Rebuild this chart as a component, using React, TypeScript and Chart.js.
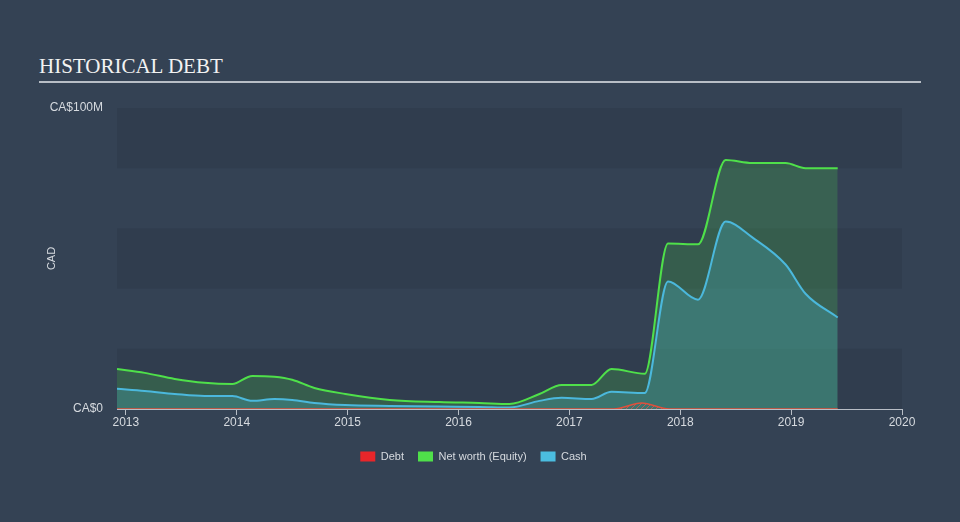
import React, { useEffect, useRef } from 'react';
import { Chart, registerables } from 'chart.js';

Chart.register(...registerables);

// ---- data (values in CA$ millions, x as decimal years) ----
const dates = [
  2012.92, 2013.17, 2013.44, 2013.71, 2013.96, 2014.14, 2014.34, 2014.5, 2014.7, 2014.98,
  2015.38, 2015.83, 2016.19, 2016.46, 2016.73, 2016.93, 2017.2, 2017.38, 2017.68, 2017.89,
  2018.16, 2018.41, 2018.65, 2018.95, 2019.13, 2019.42,
];
const netWorth = [
  13.3, 12, 10, 8.7, 8.3, 11, 10.7, 9.7, 7, 5,
  3, 2.3, 2, 1.7, 5, 8, 8, 13.3, 11.7, 55,
  54.7, 82.7, 81.7, 81.7, 80, 80,
];
const cash = [
  6.7, 6, 5, 4.3, 4.3, 2.7, 3.3, 3, 2, 1.3,
  1, 0.8, 0.7, 0.5, 2.7, 3.7, 3.3, 5.7, 5.3, 42.4,
  36.3, 62.3, 57, 48, 38.3, 30.4,
];
const debtDates = [2012.92, 2017.4, 2017.65, 2017.9, 2019.42];
const debt = [0, 0, 2.0, 0, 0];

const xTicks = [2013, 2014, 2015, 2016, 2017, 2018, 2019, 2020];
const yTicks = [0, 20, 40, 60, 80, 100];
const yLabels: Record<number, string> = { 0: 'CA$0', 100: 'CA$100M' };
const legendNames = ['Debt', 'Net worth (Equity)', 'Cash'];

const BG = '#344254';
const BAND = '#303d4e';
const TEXT = '#d6dadf';
const AXIS = '#b8bec6';
const FONT = '"Liberation Sans", Arial, sans-serif';

const toPoints = (xs: number[], ys: number[]) => xs.map((x, i) => ({ x, y: ys[i] }));

function makeHatch(): CanvasPattern | string {
  const c = document.createElement('canvas');
  c.width = 5;
  c.height = 5;
  const g = c.getContext('2d');
  if (!g) return 'rgba(230,60,60,0.4)';
  g.strokeStyle = 'rgba(235,80,70,0.75)';
  g.lineWidth = 1;
  g.beginPath();
  g.moveTo(0, 5);
  g.lineTo(5, 0);
  g.stroke();
  const p = g.createPattern(c, 'repeat');
  return p || 'rgba(230,60,60,0.4)';
}

const bandsPlugin = {
  id: 'bands',
  beforeDraw(chart: any) {
    const { ctx, chartArea, scales } = chart;
    const y = scales.y;
    ctx.save();
    for (let i = 0; i < yTicks.length - 1; i++) {
      if (i % 2 !== 0) continue;
      const top = y.getPixelForValue(yTicks[i + 1]);
      const bottom = y.getPixelForValue(yTicks[i]);
      ctx.fillStyle = BAND;
      ctx.fillRect(chartArea.left, top, chartArea.right - chartArea.left, bottom - top);
    }
    ctx.restore();
  },
};

export default function App() {
  const ref = useRef<HTMLCanvasElement | null>(null);

  useEffect(() => {
    if (!ref.current) return;
    const chart = new Chart(ref.current, {
      type: 'line',
      data: {
        datasets: [
          {
            label: legendNames[0],
            data: toPoints(debtDates, debt),
            borderColor: '#e0503c',
            borderWidth: 1.5,
            backgroundColor: makeHatch() as any,
            fill: 'origin',
            pointRadius: 0,
            cubicInterpolationMode: 'monotone',
            order: 0,
          },
          {
            label: legendNames[1],
            data: toPoints(dates, netWorth),
            borderColor: '#4fe04a',
            borderWidth: 2,
            backgroundColor: 'rgba(76,210,76,0.22)',
            fill: 'origin',
            pointRadius: 0,
            cubicInterpolationMode: 'monotone',
            order: 2,
          },
          {
            label: legendNames[2],
            data: toPoints(dates, cash),
            borderColor: '#4bb8dc',
            borderWidth: 2,
            backgroundColor: 'rgba(75,190,215,0.25)',
            fill: 'origin',
            pointRadius: 0,
            cubicInterpolationMode: 'monotone',
            order: 1,
          },
        ],
      },
      options: {
        responsive: false,
        animation: false,
        layout: { padding: { left: 45, right: 58, top: 108, bottom: 50 } },
        plugins: {
          tooltip: { enabled: false },
          legend: {
            position: 'bottom',
            labels: {
              boxWidth: 15,
              boxHeight: 10,
              padding: 14,
              color: TEXT,
              font: { family: FONT, size: 11 },
              generateLabels: () => [
                { text: legendNames[0], fillStyle: '#e8262a', strokeStyle: '#e8262a', lineWidth: 0, hidden: false, datasetIndex: 0, fontColor: TEXT },
                { text: legendNames[1], fillStyle: '#4fe04a', strokeStyle: '#4fe04a', lineWidth: 0, hidden: false, datasetIndex: 1, fontColor: TEXT },
                { text: legendNames[2], fillStyle: '#4bbde0', strokeStyle: '#4bbde0', lineWidth: 0, hidden: false, datasetIndex: 2, fontColor: TEXT },
              ],
            },
          },
        },
        scales: {
          x: {
            type: 'linear',
            min: 2012.92,
            max: 2020,
            afterBuildTicks: (s: any) => {
              s.ticks = xTicks.map((v) => ({ value: v }));
            },
            afterFit: (s: any) => {
              s.height = 28;
            },
            ticks: {
              color: TEXT,
              font: { family: FONT, size: 12 },
              padding: 0,
              maxRotation: 0,
              autoSkip: false,
              callback: (v: any) => String(v),
            },
            grid: { drawOnChartArea: false, drawTicks: true, tickLength: 6, color: AXIS },
            border: { display: true, color: AXIS, width: 1 },
          },
          y: {
            min: 0,
            max: 100,
            afterBuildTicks: (s: any) => {
              s.ticks = yTicks.map((v) => ({ value: v }));
            },
            afterFit: (s: any) => {
              s.width = 72;
            },
            ticks: {
              color: TEXT,
              font: { family: FONT, size: 12 },
              padding: 14,
              callback: (v: any) => yLabels[v as number] ?? '',
            },
            grid: { display: false, drawTicks: false },
            border: { display: false },
            title: {
              display: true,
              text: 'CAD',
              color: TEXT,
              font: { family: FONT, size: 11 },
              padding: 0,
            },
          },
        },
      },
      plugins: [bandsPlugin],
    } as any);
    return () => chart.destroy();
  }, []);

  return (
    <div
      style={{
        position: 'fixed',
        left: 0,
        top: 0,
        width: 960,
        height: 522,
        background: BG,
        overflow: 'hidden',
      }}
    >
      <div
        style={{
          position: 'absolute',
          left: 39,
          top: 56,
          font: '21px "Liberation Serif", "Times New Roman", serif',
          lineHeight: '21px',
          color: '#f2f2f2',
          whiteSpace: 'nowrap',
        }}
      >
        HISTORICAL DEBT
      </div>
      <div
        style={{
          position: 'absolute',
          left: 39,
          top: 81,
          width: 882,
          height: 2,
          background: AXIS,
        }}
      />
      <canvas
        ref={ref}
        width={960}
        height={522}
        style={{ position: 'absolute', left: 0, top: 0, width: 960, height: 522 }}
      />
    </div>
  );
}
